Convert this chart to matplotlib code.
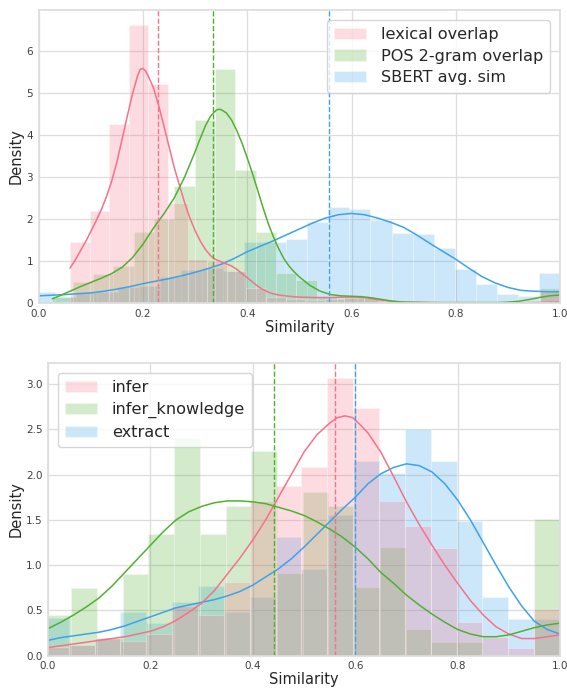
import matplotlib
matplotlib.use("Agg")
import matplotlib.pyplot as plt
import seaborn as sns
import numpy as np

sns.set_theme(style="whitegrid")
plt.rcParams['font.family'] = ['DejaVu Sans']

colors = sns.husl_palette(3)

# ---------------- Top panel data ----------------
top_labels = ["lexical overlap", "POS 2-gram overlap", "SBERT avg. sim"]

lex_start, lex_width = 0.06, 0.0376
lex_heights = [1.45, 2.20, 4.25, 6.61, 5.21, 2.39, 1.05, 1.00, 0.75, 0.35,
               0.15, 0.10, 0.08, 0.10, 0.15, 0.12, 0.05, 0.03, 0.02, 0.02,
               0.0, 0.0, 0.0, 0.0, 0.30]

pos_start, pos_width = 0.026, 0.039
pos_heights = [0.15, 0.50, 0.68, 0.87, 1.70, 1.99, 2.79, 4.35, 5.57, 3.17,
               1.70, 0.72, 0.55, 0.15, 0.12, 0.12, 0.03, 0.01, 0.01, 0.0,
               0.0, 0.0, 0.0, 0.05, 0.35]

sbert_start, sbert_width = -0.01, 0.0404
sbert_heights = [0.26, 0.15, 0.25, 0.26, 0.37, 0.40, 0.62, 0.79, 0.83, 0.75,
                 1.45, 1.45, 1.52, 1.92, 2.28, 2.23, 1.98, 1.66, 1.64, 1.30,
                 0.80, 0.45, 0.22, 0.17, 0.72]

lex_kde_x = [0.06, 0.07, 0.08, 0.09, 0.10, 0.11, 0.12, 0.13, 0.14, 0.15,
             0.16, 0.17, 0.18, 0.19, 0.195, 0.20, 0.205, 0.21, 0.22, 0.23,
             0.24, 0.25, 0.26, 0.27, 0.28, 0.29, 0.30, 0.31, 0.32, 0.33,
             0.34, 0.35, 0.36, 0.37, 0.38, 0.39, 0.40, 0.41, 0.42, 0.43,
             0.44, 0.45, 0.46, 0.48, 0.50, 0.53, 0.56, 0.59, 0.61, 0.63,
             0.65, 0.67, 0.70, 0.75, 0.80, 0.90, 0.95, 1.0]
lex_kde_y = [0.83, 1.02, 1.24, 1.46, 1.70, 1.95, 2.22, 2.53, 2.90, 3.35,
             3.90, 4.45, 4.98, 5.42, 5.56, 5.58, 5.52, 5.40, 5.12, 4.70,
             4.22, 3.72, 3.22, 2.80, 2.38, 2.02, 1.72, 1.47, 1.27, 1.12,
             1.03, 0.98, 0.93, 0.88, 0.80, 0.70, 0.60, 0.50, 0.40, 0.32,
             0.26, 0.22, 0.19, 0.16, 0.14, 0.13, 0.13, 0.14, 0.14, 0.12,
             0.08, 0.05, 0.02, 0.01, 0.0, 0.0, 0.01, 0.02]

pos_kde_x = [0.026, 0.04, 0.06, 0.08, 0.10, 0.12, 0.14, 0.16, 0.18, 0.20,
             0.22, 0.24, 0.26, 0.28, 0.30, 0.31, 0.32, 0.33, 0.34, 0.345,
             0.35, 0.36, 0.37, 0.38, 0.39, 0.40, 0.41, 0.42, 0.43, 0.44,
             0.45, 0.46, 0.47, 0.48, 0.49, 0.50, 0.52, 0.54, 0.56, 0.58,
             0.60, 0.62, 0.64, 0.66, 0.68, 0.70, 0.75, 0.80, 0.85, 0.88,
             0.90, 0.92, 0.94, 0.96, 0.98, 1.0]
pos_kde_y = [0.10, 0.17, 0.28, 0.39, 0.49, 0.59, 0.70, 0.85, 1.08, 1.40,
             1.78, 2.12, 2.50, 3.00, 3.60, 3.92, 4.22, 4.45, 4.58, 4.61,
             4.60, 4.52, 4.35, 4.10, 3.80, 3.45, 3.08, 2.68, 2.28, 1.90,
             1.58, 1.30, 1.06, 0.88, 0.74, 0.62, 0.42, 0.28, 0.20, 0.17,
             0.16, 0.15, 0.12, 0.08, 0.04, 0.02, 0.01, 0.01, 0.01, 0.01,
             0.02, 0.04, 0.08, 0.13, 0.17, 0.19]

sbert_kde_x = [0.0, 0.025, 0.05, 0.075, 0.10, 0.125, 0.15, 0.175, 0.20, 0.225,
               0.25, 0.275, 0.30, 0.325, 0.35, 0.375, 0.40, 0.425, 0.45, 0.475,
               0.50, 0.525, 0.55, 0.575, 0.60, 0.625, 0.65, 0.675, 0.70, 0.725,
               0.75, 0.775, 0.80, 0.825, 0.85, 0.875, 0.90, 0.925, 0.95, 0.975,
               1.0]
sbert_kde_y = [0.17, 0.185, 0.20, 0.22, 0.24, 0.28, 0.33, 0.39, 0.46, 0.52,
               0.58, 0.65, 0.73, 0.82, 0.92, 1.06, 1.22, 1.35, 1.48, 1.62,
               1.76, 1.90, 2.02, 2.10, 2.13, 2.10, 2.02, 1.92, 1.80, 1.62,
               1.42, 1.23, 1.04, 0.83, 0.63, 0.48, 0.37, 0.30, 0.28, 0.27,
               0.27]

top_means = [0.228, 0.334, 0.557]

# ---------------- Bottom panel data ----------------
bot_labels = ["infer", "infer_knowledge", "extract"]

infer_start, infer_width = -0.01, 0.0505
infer_heights = [0.10, 0.12, 0.20, 0.16, 0.24, 0.55, 0.45, 0.81, 1.71, 1.88,
                 2.09, 3.07, 2.74, 1.71, 1.43, 1.19, 0.37, 0.21, 0.08, 0.52]

know_start, know_width = -0.005, 0.05025
know_heights = [0.45, 0.75, 0.20, 0.90, 1.35, 2.40, 1.35, 1.65, 2.26, 0.91,
                1.81, 1.65, 0.76, 1.20, 0.30, 0.15, 0.15, 0.0, 0.0, 1.51]

extract_start, extract_width = -0.01, 0.0505
extract_heights = [0.42, 0.12, 0.18, 0.48, 0.36, 0.59, 0.77, 0.48, 0.65, 1.31,
                   0.96, 1.55, 2.15, 2.02, 2.51, 2.15, 1.49, 0.65, 0.41, 0.41]

infer_kde_x = [0.0, 0.05, 0.10, 0.15, 0.20, 0.225, 0.25, 0.275, 0.30, 0.325,
               0.35, 0.375, 0.40, 0.425, 0.45, 0.475, 0.50, 0.525, 0.55, 0.565,
               0.58, 0.595, 0.61, 0.625, 0.65, 0.675, 0.70, 0.725, 0.75, 0.775,
               0.80, 0.825, 0.85, 0.875, 0.90, 0.925, 0.95, 0.975, 1.0]
infer_kde_y = [0.09, 0.13, 0.17, 0.21, 0.27, 0.32, 0.39, 0.48, 0.58, 0.72,
               0.90, 1.08, 1.28, 1.50, 1.75, 2.00, 2.25, 2.44, 2.57, 2.63,
               2.65, 2.63, 2.55, 2.46, 2.25, 1.98, 1.70, 1.45, 1.22, 1.00,
               0.80, 0.61, 0.45, 0.32, 0.24, 0.19, 0.19, 0.21, 0.23]

know_kde_x = [0.0, 0.025, 0.05, 0.075, 0.10, 0.125, 0.15, 0.175, 0.20, 0.225,
              0.25, 0.275, 0.30, 0.325, 0.35, 0.375, 0.40, 0.425, 0.45, 0.475,
              0.50, 0.525, 0.55, 0.575, 0.60, 0.625, 0.65, 0.675, 0.70, 0.725,
              0.75, 0.775, 0.80, 0.825, 0.85, 0.875, 0.90, 0.925, 0.95, 0.975,
              1.0]
know_kde_y = [0.30, 0.37, 0.45, 0.54, 0.64, 0.77, 0.92, 1.07, 1.22, 1.37,
              1.50, 1.59, 1.65, 1.69, 1.71, 1.71, 1.70, 1.68, 1.64, 1.60,
              1.55, 1.48, 1.40, 1.31, 1.20, 1.07, 0.92, 0.80, 0.67, 0.56,
              0.46, 0.37, 0.29, 0.24, 0.21, 0.21, 0.23, 0.27, 0.31, 0.34,
              0.36]

extract_kde_x = know_kde_x
extract_kde_y = [0.17, 0.20, 0.22, 0.24, 0.26, 0.29, 0.33, 0.38, 0.43, 0.48,
                 0.53, 0.56, 0.59, 0.62, 0.66, 0.71, 0.78, 0.87, 0.96, 1.07,
                 1.20, 1.34, 1.48, 1.62, 1.75, 1.90, 2.01, 2.08, 2.12, 2.10,
                 2.03, 1.90, 1.72, 1.50, 1.25, 1.00, 0.76, 0.55, 0.38, 0.29,
                 0.24]

bot_means = [0.561, 0.441, 0.599]

# ---------------- Plot ----------------
fig = plt.figure(figsize=(5.67, 6.88), dpi=100)
ax1 = fig.add_axes([0.0683, 0.5596, 0.9194, 0.4259])
ax2 = fig.add_axes([0.0847, 0.0469, 0.9030, 0.4250])

ALPHA = 0.25


def draw_hist(ax, start, width, heights, color, label):
    edges = start + width * np.arange(len(heights))
    ax.bar(edges, heights, width=width, align='edge', color=color,
           alpha=ALPHA, edgecolor='white', linewidth=0.8, label=label)


# top
draw_hist(ax1, sbert_start, sbert_width, sbert_heights, colors[2], top_labels[2])
draw_hist(ax1, pos_start, pos_width, pos_heights, colors[1], top_labels[1])
draw_hist(ax1, lex_start, lex_width, lex_heights, colors[0], top_labels[0])
ax1.plot(sbert_kde_x, sbert_kde_y, color=colors[2], lw=1.1)
ax1.plot(lex_kde_x, lex_kde_y, color=colors[0], lw=1.1)
ax1.plot(pos_kde_x, pos_kde_y, color=colors[1], lw=1.1)
for m, c in zip(top_means, colors):
    ax1.axvline(m, color=c, ls='--', lw=1.0)

ax1.set_xlim(0, 1)
ax1.set_ylim(0, 6.97)
ax1.set_yticks([0, 1, 2, 3, 4, 5, 6])
ax1.set_xticks([0.0, 0.2, 0.4, 0.6, 0.8, 1.0])
ax1.set_xlabel("Similarity", fontsize=10.5)
ax1.set_ylabel("Density", fontsize=10.5)
ax1.xaxis.set_label_coords(0.5, -0.082)
ax1.yaxis.set_label_coords(-0.044, 0.5)
ax1.xaxis.label.set_va('center')
ax1.yaxis.label.set_va('center')
h, l = ax1.get_legend_handles_labels()
order = [l.index(t) for t in top_labels]
ax1.legend([h[i] for i in order], [l[i] for i in order], loc='upper right',
           fontsize=11.6, handlelength=2.0, borderpad=0.45, labelspacing=0.42,
           handletextpad=0.9, fancybox=True, borderaxespad=0.6)

# bottom
draw_hist(ax2, extract_start, extract_width, extract_heights, colors[2], bot_labels[2])
draw_hist(ax2, know_start, know_width, know_heights, colors[1], bot_labels[1])
draw_hist(ax2, infer_start, infer_width, infer_heights, colors[0], bot_labels[0])
ax2.plot(extract_kde_x, extract_kde_y, color=colors[2], lw=1.1)
ax2.plot(infer_kde_x, infer_kde_y, color=colors[0], lw=1.1)
ax2.plot(know_kde_x, know_kde_y, color=colors[1], lw=1.1)
for m, c in zip(bot_means, colors):
    ax2.axvline(m, color=c, ls='--', lw=1.0)

ax2.set_xlim(0, 1)
ax2.set_ylim(0, 3.23)
ax2.set_yticks([0.0, 0.5, 1.0, 1.5, 2.0, 2.5, 3.0])
ax2.set_xticks([0.0, 0.2, 0.4, 0.6, 0.8, 1.0])
ax2.set_xlabel("Similarity", fontsize=10.5)
ax2.set_ylabel("Density", fontsize=10.5)
ax2.xaxis.set_label_coords(0.5, -0.080)
ax2.yaxis.set_label_coords(-0.063, 0.5)
ax2.xaxis.label.set_va('center')
ax2.yaxis.label.set_va('center')
h, l = ax2.get_legend_handles_labels()
order = [l.index(t) for t in bot_labels]
ax2.legend([h[i] for i in order], [l[i] for i in order], loc='upper left',
           fontsize=11.6, handlelength=2.0, borderpad=0.45, labelspacing=0.42,
           handletextpad=0.9, fancybox=True, borderaxespad=0.6)

for ax in (ax1, ax2):
    ax.tick_params(axis='both', labelsize=7.5, length=0, pad=4, colors='0.25')
    ax.grid(True, color='#dddddd', lw=0.9)
    for s in ax.spines.values():
        s.set_color('#dddddd')
    ax.set_axisbelow(True)

fig.savefig("out.png", dpi=100)
